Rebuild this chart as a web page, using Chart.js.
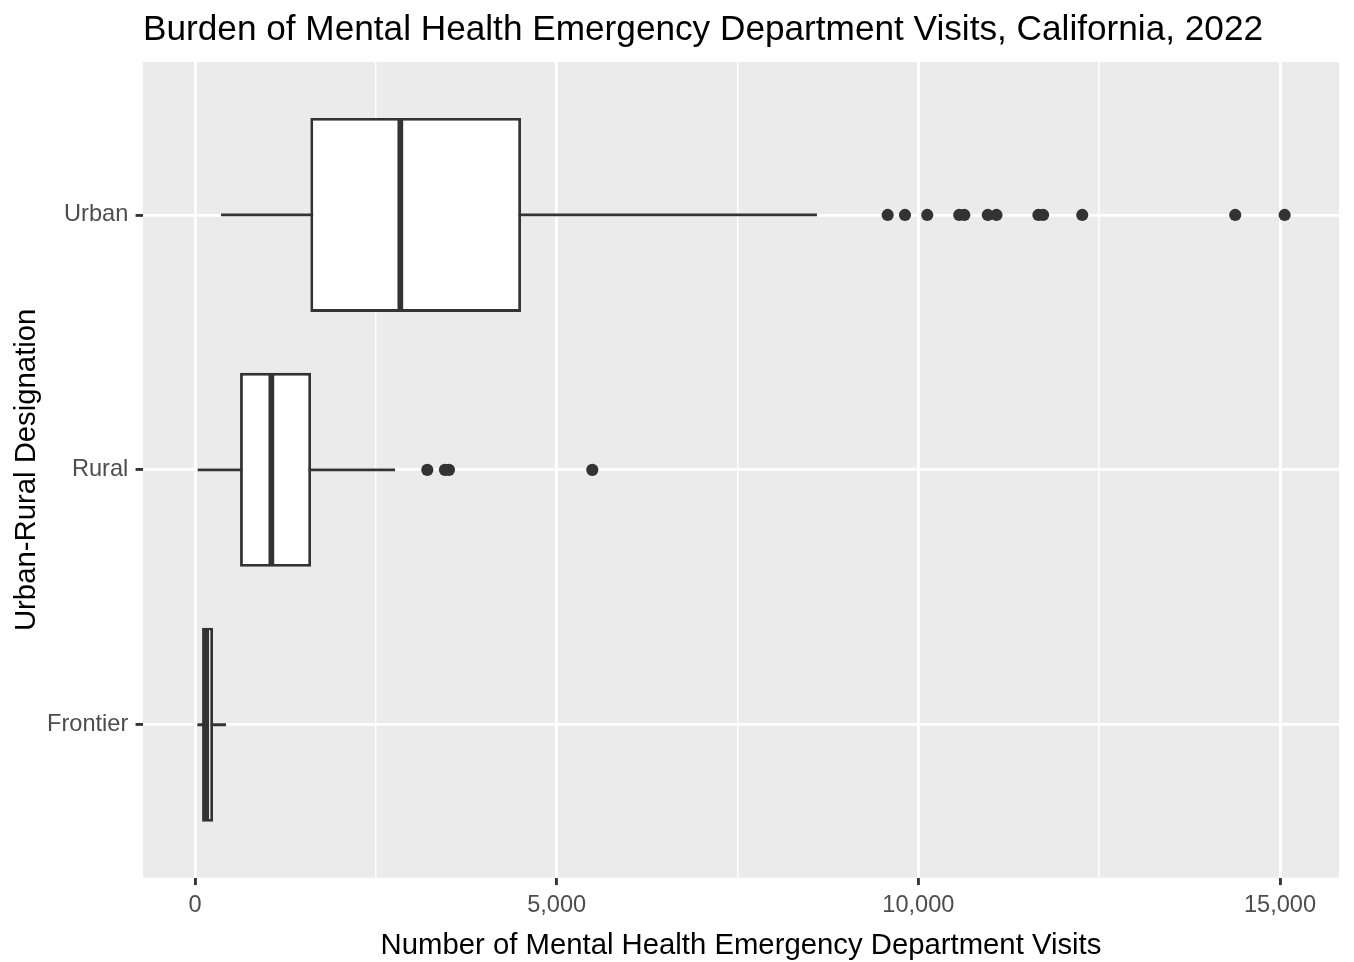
<!DOCTYPE html>
<html>
<head>
<meta charset="utf-8">
<title>Burden of Mental Health Emergency Department Visits, California, 2022</title>
<script src="https://cdn.jsdelivr.net/npm/chart.js@4/dist/chart.umd.min.js"></script>
<style>
  html, body { margin: 0; padding: 0; background: #fff; }
  #wrap { width: 1354px; height: 962px; }
</style>
</head>
<body>
<div id="wrap"><canvas id="chart" width="1354" height="962"></canvas></div>
<script>
// categories, bottom (1) to top (3)
const categories = ['Frontier', 'Rural', 'Urban'];
const whiskerLow = [32, 37, 359];
const q1 = [97, 622, 1594];
const median = [155, 1055, 2838];
const q3 = [249, 1604, 4507];
const whiskerHigh = [428, 2765, 8598];
const outliersFrontier = [];
const outliersRural = [3211, 3455, 3510, 5492];
const outliersUrban = [9576, 9815, 10123, 10565, 10635, 10960, 11080, 11660, 11725, 12266, 14381, 15064];
const xTicks = [0, 5000, 10000, 15000];
const xMinorTicks = [2500, 7500, 12500];

const TITLE = 'Burden of Mental Health Emergency Department Visits, California, 2022';
const X_TITLE = 'Number of Mental Health Emergency Department Visits';
const Y_TITLE = 'Urban-Rural Designation';

const FONT = '"Liberation Sans", Arial, Helvetica, sans-serif';
const INK = '#333333';
const LW = 2.86;
const HALF = 0.375; // half box width, in category units

const outliers = [outliersFrontier, outliersRural, outliersUrban];

// ggplot style limits: data range expanded by 5% each side
const allX = whiskerLow.concat(whiskerHigh, ...outliers);
const lo = Math.min(...allX), hi = Math.max(...allX);
const pad = (hi - lo) * 0.05;

const datasets = [];

// whiskers (drawn first, under the boxes)
categories.forEach((c, i) => {
  datasets.push({
    type: 'line', label: c + ' whisker', order: 4,
    data: [{x: whiskerLow[i], y: i + 1}, {x: whiskerHigh[i], y: i + 1}],
    borderColor: INK, borderWidth: LW, pointRadius: 0, fill: false
  });
});

// boxes
datasets.push({
  type: 'bar', label: 'box', order: 3, indexAxis: 'y', grouped: false,
  data: categories.map((c, i) => ({y: i + 1, x: [q1[i], q3[i]]})),
  backgroundColor: '#ffffff', borderColor: INK, borderWidth: LW, borderSkipped: false,
  barPercentage: 0.761, categoryPercentage: 1, inflateAmount: 0
});

// medians
categories.forEach((c, i) => {
  datasets.push({
    type: 'line', label: c + ' median', order: 2,
    data: [{x: median[i], y: i + 1 - HALF}, {x: median[i], y: i + 1 + HALF}],
    borderColor: INK, borderWidth: LW * 2, borderCapStyle: 'butt', pointRadius: 0, fill: false
  });
});

// outliers
datasets.push({
  type: 'scatter', label: 'outliers', order: 1,
  data: outliers.flatMap((arr, i) => arr.map(v => ({x: v, y: i + 1}))),
  backgroundColor: INK, borderWidth: 0, pointRadius: 6.1, pointHoverRadius: 6.1
});

const panelBg = {
  id: 'panelBg',
  beforeDraw(chart) {
    const {ctx, chartArea: a} = chart;
    ctx.save();
    ctx.fillStyle = '#EBEBEB';
    ctx.fillRect(a.left, a.top, a.right - a.left, a.bottom - a.top);
    ctx.restore();
  }
};

const titles = {
  id: 'titles',
  afterDraw(chart) {
    const {ctx, chartArea: a} = chart;
    ctx.save();
    ctx.fillStyle = '#000';
    ctx.textBaseline = 'alphabetic';
    ctx.font = '35.2px ' + FONT;
    ctx.textAlign = 'left';
    ctx.fillText(TITLE, a.left, 40);
    ctx.font = '29.3px ' + FONT;
    ctx.textAlign = 'center';
    ctx.fillText(X_TITLE, (a.left + a.right) / 2, 954);
    ctx.translate(35, (a.top + a.bottom) / 2);
    ctx.rotate(-Math.PI / 2);
    ctx.fillText(Y_TITLE, 0, 0);
    ctx.restore();
  }
};

const isMajor = v => xTicks.includes(v);

new Chart(document.getElementById('chart'), {
  type: 'scatter',
  data: { datasets },
  options: {
    responsive: false,
    animation: false,
    devicePixelRatio: 1,
    layout: { padding: { top: 62, right: 15, bottom: 0, left: 0 } },
    plugins: { legend: { display: false }, tooltip: { enabled: false }, title: { display: false } },
    scales: {
      x: {
        type: 'linear', min: lo - pad, max: hi + pad, offset: false,
        afterBuildTicks: s => { s.ticks = xTicks.concat(xMinorTicks).sort((a, b) => a - b).map(v => ({value: v})); },
        afterFit: s => { s.height = 84.3; },
        border: { display: false },
        grid: {
          color: '#ffffff', offset: false,
          lineWidth: ctx => isMajor(ctx.tick.value) ? LW : LW / 2,
          drawTicks: true, tickLength: 7.4,
          tickColor: ctx => isMajor(ctx.tick.value) ? INK : 'rgba(0,0,0,0)',
          tickWidth: LW
        },
        ticks: {
          autoSkip: false, maxRotation: 0, padding: 6,
          color: '#4D4D4D', font: { family: FONT, size: 23.6 },
          callback: v => isMajor(v) ? v.toLocaleString('en-US') : ''
        }
      },
      y: {
        type: 'linear', min: 0.4, max: 3.6, offset: false,
        afterBuildTicks: s => { s.ticks = categories.map((c, i) => ({value: i + 1})); },
        afterFit: s => { s.width = 143; },
        border: { display: false },
        grid: {
          color: '#ffffff', offset: false, lineWidth: LW,
          drawTicks: true, tickLength: 7.4, tickColor: INK, tickWidth: LW
        },
        ticks: {
          autoSkip: false, padding: 7.3,
          color: '#4D4D4D', font: { family: FONT, size: 23.6 },
          callback: v => categories[v - 1] || ''
        }
      }
    }
  },
  plugins: [panelBg, titles]
});
</script>
</body>
</html>
